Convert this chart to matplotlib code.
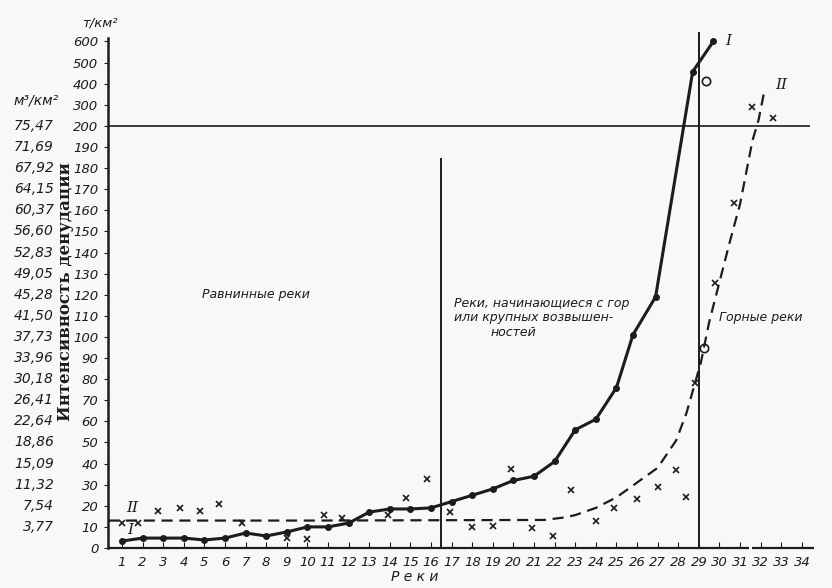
import numpy as np
import matplotlib.pyplot as plt
from matplotlib.transforms import blended_transform_factory

# curve I (solid, dots): river number -> denudation, t/km2
rivers_I = [1, 2, 3, 4, 5, 6, 7, 8, 9, 10, 11, 12, 13, 14, 15, 16, 17, 18, 19, 20,
            21, 22, 23, 24, 25, 25.8, 26.9, 28.7, 29.7]
values_I = [3.3, 4.7, 4.7, 4.7, 3.8, 4.7, 7.1, 5.7, 7.6, 10, 10, 11.8, 17, 18.5, 18.5, 19,
            22, 25, 28, 32, 34, 41, 56, 61, 76, 101, 119, 457, 600]

# curve II (dashed, smoothed)
rivers_II = [0.33, 10, 21.5, 22.5, 23, 24, 25, 26, 27, 27.9, 28.4, 29.1, 29.5, 30.0,
             30.5, 31.0, 31.6, 31.9, 32.2]
values_II = [13, 13, 13.3, 14.5, 15.6, 19, 24, 31, 38, 51, 64, 88, 107, 126,
             145, 163, 193, 229, 376]

# individual observations (crosses)
rivers_x = [1.0, 1.8, 2.75, 3.8, 4.8, 5.7, 6.8, 9.0, 10.0, 10.8, 11.7, 13.9, 14.8, 15.8,
            16.9, 18.0, 19.0, 19.9, 20.9, 21.9, 22.8, 24.0, 24.9, 26.0, 27.0, 27.9, 28.4,
            28.8, 29.8, 30.7, 31.6, 32.6]
values_x = [12, 12, 17.5, 19, 17.5, 21, 12, 4.7, 4.3, 15.6, 14, 15.6, 23.7, 32.7,
            17, 10, 10.4, 37.4, 9.5, 5.7, 27.5, 12.8, 19, 23.2, 28.9, 37, 24.2,
            78, 125.6, 163.5, 290, 238]

# circles
rivers_o = [29.25, 29.35]
values_o = [95, 414]

yticks = list(range(0, 201, 10)) + [300, 400, 500, 600]
m3_vals = [10, 20, 30, 40, 50, 60, 70, 80, 90, 100, 110, 120, 130, 140, 150, 160,
           170, 180, 190, 200]
m3_labels = ["3,77", "7,54", "11,32", "15,09", "18,86", "22,64", "26,41", "30,18",
             "33,96", "37,73", "41,50", "45,28", "49,05", "52,83", "56,60", "60,37",
             "64,15", "67,92", "71,69", "75,47"]


def fwd(v):
    v = np.asarray(v, dtype=float)
    return np.where(v <= 200, v, 200 + (v - 200) / 10.0)


def inv(u):
    u = np.asarray(u, dtype=float)
    return np.where(u <= 200, u, 200 + (u - 200) * 10.0)


ink = "#1c1c1c"
bg = "#f8f8f6"
fig = plt.figure(figsize=(8.32, 5.88), dpi=100, facecolor=bg)
ax = fig.add_axes([108 / 832, 40 / 588, 712 / 832, 516 / 588], facecolor=bg)
ax.set_yscale("function", functions=(fwd, inv))
ax.set_xlim(0.32, 34.88)
ax.set_ylim(0, 645)

for s in ["top", "right", "bottom"]:
    ax.spines[s].set_visible(False)
ax.spines["left"].set_bounds(0, 615)
ax.spines["left"].set_linewidth(1.8)
ax.spines["left"].set_color(ink)

# x axis drawn in two pieces (break between 31 and 32)
ax.hlines(0, 0.32, 31.45, color=ink, lw=1.6, clip_on=False)
ax.hlines(0, 31.6, 34.6, color=ink, lw=1.6, clip_on=False)

ax.set_xticks(range(1, 35))
ax.set_xticklabels([str(i) for i in range(1, 35)], fontstyle="italic", fontsize=9.5, color=ink)
ax.tick_params(axis="x", direction="in", length=4, color=ink, pad=6)
ax.set_yticks(yticks)
ax.set_yticklabels([str(v) for v in yticks], fontstyle="italic", fontsize=9.5, color=ink)
ax.tick_params(axis="y", direction="out", length=3, color=ink, pad=4)
ax.minorticks_off()

# reference lines
ax.hlines(200, 0.32, 34.4, color=ink, lw=1.2)
ax.vlines(16.5, 0, 185, color=ink, lw=1.4)
ax.vlines(29, 0, 645, color=ink, lw=1.4)

# curves
ax.plot(rivers_II, values_II, color=ink, lw=1.6, ls=(0, (5, 3)))
ax.plot(rivers_I, values_I, color=ink, lw=2.2, marker="o", ms=4)
ax.plot(rivers_x, values_x, ls="none", marker="x", ms=4.5, mew=1.2, color=ink)
ax.plot(rivers_o, values_o, ls="none", marker="o", ms=6, mfc="none", mew=1.2, color=ink)

# curve labels
ax.text(1.25, 8.5, "I", fontsize=11, family="DejaVu Serif", fontstyle="italic", color=ink, ha="left", va="center")
ax.text(1.2, 19, "II", fontsize=11, family="DejaVu Serif", fontstyle="italic", color=ink, ha="left", va="center")
ax.text(30.3, 600, "I", fontsize=11, family="DejaVu Serif", fontstyle="italic", color=ink, ha="left", va="center")
ax.text(32.7, 395, "II", fontsize=11, family="DejaVu Serif", fontstyle="italic", color=ink, ha="left", va="center")

# region captions
ax.text(4.9, 120, "Равнинные реки", fontsize=9, fontstyle="italic", color=ink, va="center")
ax.text(17.1, 116, "Реки, начинающиеся с гор", fontsize=9, fontstyle="italic", color=ink, va="center")
ax.text(17.1, 109, "или крупных возвышен-", fontsize=9, fontstyle="italic", color=ink, va="center")
ax.text(18.9, 102, "ностей", fontsize=9, fontstyle="italic", color=ink, va="center")
ax.text(30.0, 109, "Горные реки", fontsize=9, fontstyle="italic", color=ink, va="center")

# axis caption under the river numbers
fig.text(415 / 832, 1 - 577 / 588, "Р е к и", fontsize=10, fontstyle="italic", color=ink,
         ha="center", va="center")

# unit label over the axis
fig.text(100 / 832, 1 - 23 / 588, "т/км²", fontsize=9.5, fontstyle="italic", color=ink, ha="center", va="center")

# second scale in m3/km2
tr = blended_transform_factory(fig.transFigure, ax.transData)
for v, lab in zip(m3_vals, m3_labels):
    ax.text(54 / 832, v, lab, transform=tr, fontsize=10, fontstyle="italic", color=ink,
            ha="right", va="center", clip_on=False)
fig.text(36 / 832, 1 - 100 / 588, "м³/км²", fontsize=10, fontstyle="italic", color=ink, ha="center", va="center")

fig.text(66 / 832, 1 - 292 / 588, "Интенсивность денудации", rotation=90, fontsize=12,
         fontweight="bold", family="DejaVu Serif", color=ink, ha="center", va="center")

fig.savefig("out.png", dpi=100, facecolor=bg)
